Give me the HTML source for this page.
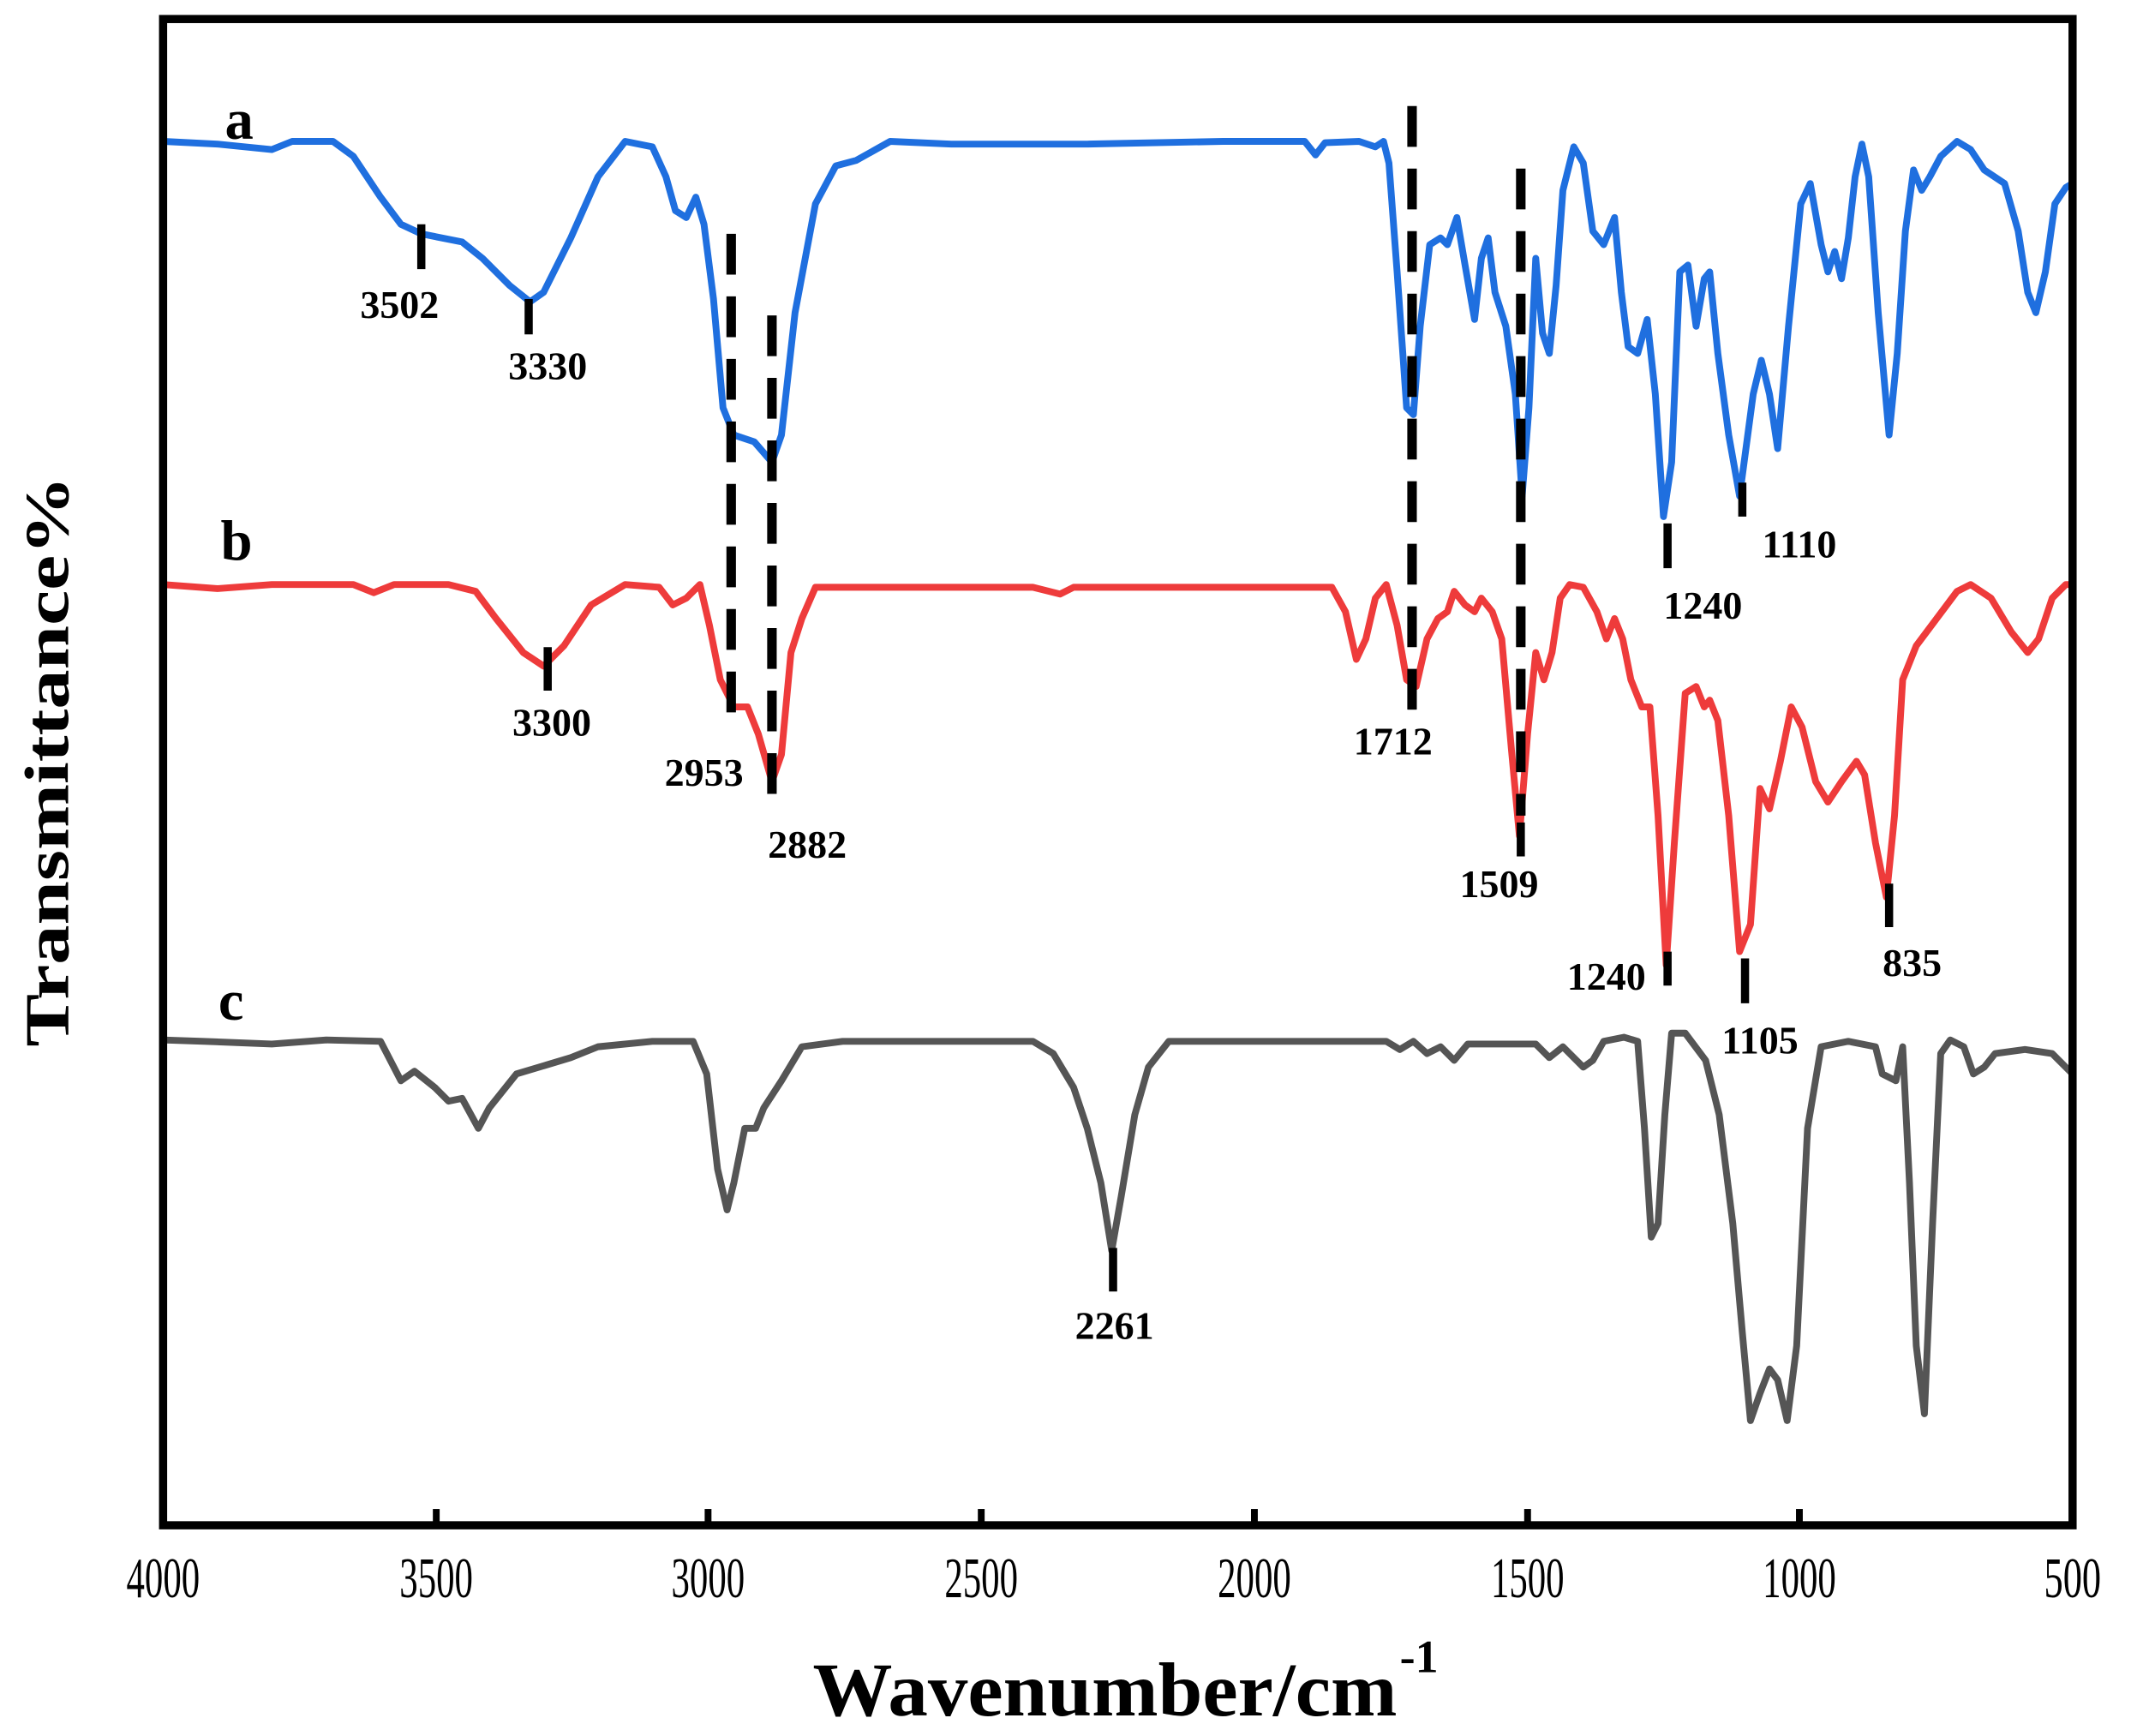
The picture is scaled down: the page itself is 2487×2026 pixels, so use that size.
<!DOCTYPE html>
<html><head><meta charset="utf-8"><style>html,body{margin:0;padding:0;background:#fff;}svg{display:block}</style></head>
<body>
<svg width="2487" height="2026" viewBox="0 0 1568 1277" preserveAspectRatio="none" xmlns="http://www.w3.org/2000/svg">
<rect width="1568" height="1277" fill="#fff"/>
<g fill="none" stroke-linejoin="round" stroke-linecap="round" stroke-width="5">
<polyline stroke="#1f6fdf" points="120,104 160,106 200,110 215,104 245,104 260,115 280,145 295,165 310,172 340,178 355,190 375,210 390,222 400,215 420,175 440,130 460,104 480,108 490,130 497,155 505,160 512,145 518,165 525,220 532,300 540,320 555,325 568,340 575,320 585,230 600,150 615,122 630,118 655,104 700,106 800,106 900,104 960,104 968,114 975,105 1000,104 1012,108 1018,104 1022,120 1028,200 1035,300 1040,305 1045,240 1052,180 1060,175 1065,180 1072,160 1078,195 1085,235 1090,190 1095,175 1100,215 1108,240 1115,290 1120,365 1125,300 1130,190 1135,245 1140,260 1145,210 1150,140 1158,108 1165,120 1172,170 1180,180 1188,160 1193,215 1198,255 1205,260 1212,235 1218,290 1224,380 1230,340 1236,200 1242,195 1248,240 1254,205 1258,200 1264,260 1272,320 1280,365 1290,290 1296,265 1302,290 1308,330 1316,240 1325,150 1332,135 1340,180 1345,200 1350,185 1355,205 1360,175 1365,130 1370,106 1375,130 1382,230 1390,320 1396,260 1402,170 1408,125 1414,140 1420,130 1428,115 1440,104 1450,110 1460,125 1475,135 1485,170 1492,215 1498,230 1505,200 1512,150 1520,138 1525,135"/>
<polyline stroke="#ee3b3b" points="120,430 160,433 200,430 260,430 275,436 290,430 330,430 350,435 365,455 385,480 400,490 415,475 435,445 460,430 485,432 495,445 505,440 515,430 522,460 530,500 540,520 550,520 558,540 568,575 575,555 582,480 590,455 600,432 640,432 760,432 780,437 790,432 980,432 990,450 998,485 1005,470 1012,440 1020,430 1028,460 1035,500 1042,505 1050,470 1058,455 1065,450 1070,435 1078,445 1085,450 1090,440 1098,450 1105,470 1112,550 1118,615 1124,540 1130,480 1136,500 1142,480 1148,440 1155,430 1165,432 1175,450 1182,470 1188,455 1194,470 1200,500 1208,520 1214,520 1220,600 1226,710 1232,620 1240,510 1248,505 1254,520 1258,515 1264,530 1272,600 1280,700 1288,680 1295,580 1302,595 1310,560 1318,520 1326,535 1336,575 1345,590 1355,575 1366,560 1372,570 1380,620 1388,660 1394,600 1400,500 1410,475 1425,455 1440,435 1450,430 1465,440 1480,465 1492,480 1500,470 1510,440 1520,430 1525,430"/>
<polyline stroke="#555" points="120,765 150,766 200,768 240,765 280,766 295,795 305,788 320,800 330,810 340,808 352,830 360,815 380,790 420,778 440,770 480,766 510,766 520,790 528,860 535,890 540,870 548,830 556,830 562,815 575,795 590,770 620,766 700,766 760,766 775,775 790,800 800,830 810,870 818,920 825,880 835,820 845,785 860,766 960,766 1020,766 1030,772 1040,766 1050,775 1060,770 1070,780 1080,768 1100,768 1130,768 1140,778 1150,770 1165,785 1172,780 1180,766 1195,763 1205,766 1210,830 1215,910 1220,900 1225,820 1230,760 1240,760 1255,780 1265,820 1275,900 1282,980 1288,1045 1295,1025 1302,1007 1308,1015 1315,1045 1322,990 1330,830 1340,770 1360,766 1380,770 1385,790 1395,795 1400,770 1405,870 1410,990 1416,1040 1422,900 1428,775 1435,765 1445,770 1452,790 1460,785 1468,775 1490,772 1510,775 1525,790"/>
</g>
<g stroke="#000" stroke-width="7" stroke-dasharray="30,16">
<line x1="538" y1="172" x2="538" y2="525"/>
<line x1="568" y1="232" x2="568" y2="595"/>
<line x1="1039" y1="78" x2="1039" y2="525"/>
<line x1="1119" y1="124" x2="1119" y2="600"/>
</g>
<g stroke="#000" stroke-width="6">
<line x1="310" y1="165" x2="310" y2="198"/>
<line x1="389" y1="220" x2="389" y2="246"/>
<line x1="1227" y1="385" x2="1227" y2="418"/>
<line x1="1282" y1="355" x2="1282" y2="380"/>
<line x1="403" y1="476" x2="403" y2="508"/>
<line x1="1039" y1="505" x2="1039" y2="522"/>
<line x1="1119" y1="605" x2="1119" y2="630"/>
<line x1="1227" y1="700" x2="1227" y2="725"/>
<line x1="1284" y1="705" x2="1284" y2="738"/>
<line x1="1390" y1="650" x2="1390" y2="682"/>
<line x1="819" y1="918" x2="819" y2="950"/>
</g>
<g font-family="Liberation Serif, serif" font-weight="bold" font-size="29" fill="#000" text-anchor="middle">
<text x="294" y="234">3502</text>
<text x="403" y="279">3330</text>
<text x="1324" y="410">1110</text>
<text x="1253" y="455">1240</text>
<text x="406" y="541">3300</text>
<text x="518" y="578">2953</text>
<text x="594" y="631">2882</text>
<text x="1025" y="555">1712</text>
<text x="1103" y="660">1509</text>
<text x="1182" y="728">1240</text>
<text x="1295" y="775">1105</text>
<text x="1407" y="718">835</text>
<text x="820" y="985">2261</text>
<text x="176" y="102" font-size="42">a</text>
<text x="174" y="412" font-size="42">b</text>
<text x="170" y="750" font-size="42">c</text>
</g>
<rect x="120" y="14" width="1405" height="1108" fill="none" stroke="#000" stroke-width="6"/>
<g stroke="#000" stroke-width="5">
<line x1="321" y1="1122" x2="321" y2="1110"/>
<line x1="521" y1="1122" x2="521" y2="1110"/>
<line x1="722" y1="1122" x2="722" y2="1110"/>
<line x1="923" y1="1122" x2="923" y2="1110"/>
<line x1="1124" y1="1122" x2="1124" y2="1110"/>
<line x1="1324" y1="1122" x2="1324" y2="1110"/>
</g>
<g font-family="Liberation Serif, serif" font-size="42" fill="#000" text-anchor="middle">
<text x="120" y="1175" textLength="54" lengthAdjust="spacingAndGlyphs">4000</text>
<text x="321" y="1175" textLength="54" lengthAdjust="spacingAndGlyphs">3500</text>
<text x="521" y="1175" textLength="54" lengthAdjust="spacingAndGlyphs">3000</text>
<text x="722" y="1175" textLength="54" lengthAdjust="spacingAndGlyphs">2500</text>
<text x="923" y="1175" textLength="54" lengthAdjust="spacingAndGlyphs">2000</text>
<text x="1124" y="1175" textLength="54" lengthAdjust="spacingAndGlyphs">1500</text>
<text x="1324" y="1175" textLength="54" lengthAdjust="spacingAndGlyphs">1000</text>
<text x="1525" y="1175" textLength="42" lengthAdjust="spacingAndGlyphs">500</text>
</g>
<text x="598" y="1262" font-family="Liberation Serif, serif" font-weight="bold" font-size="56" textLength="430" lengthAdjust="spacingAndGlyphs">Wavenumber/cm</text>
<text x="1030" y="1230" font-family="Liberation Serif, serif" font-weight="bold" font-size="34">-1</text>
<text transform="translate(50,560) rotate(-90)" text-anchor="middle" font-family="Liberation Serif, serif" font-weight="bold" font-size="46" textLength="420" lengthAdjust="spacingAndGlyphs">Transmittance%</text>
</svg>
</body></html>
